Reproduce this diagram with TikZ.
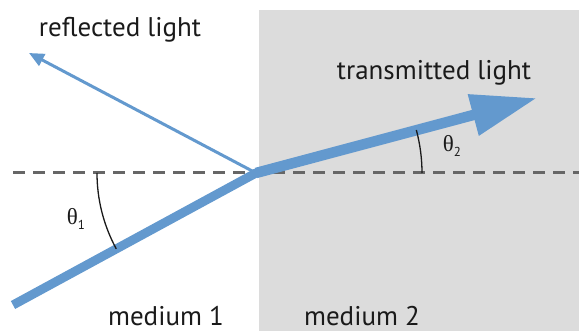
\documentclass[tikz,border=0pt]{standalone}
\usepackage{fontspec}
\setmainfont{PT Sans}
\newfontfamily\thetafont{Liberation Serif}
\usetikzlibrary{arrows.meta}
\definecolor{rayblue}{HTML}{6399CE}
\definecolor{medgray}{HTML}{DCDCDC}
\definecolor{dashgray}{HTML}{666666}
\definecolor{txt}{HTML}{1A1A1A}
\newcommand{\thsub}[1]{{\thetafont θ}\raisebox{-5pt}{\fontsize{13}{14}\selectfont #1}}
\tikzset{
  lbl/.style={text=txt, font=\fontsize{27}{30}\selectfont, inner sep=0pt},
  anglbl/.style={text=txt, font=\fontsize{23}{26}\selectfont, inner sep=0pt},
  ray/.style={draw=rayblue},
  arcline/.style={draw=txt, line width=1.3pt},
}
\begin{document}
\begin{tikzpicture}[x=1pt,y=-1pt]
\useasboundingbox (0,0) rectangle (579,331);
\fill[medgray] (259,10) rectangle (579,331);
\coordinate (O) at (256,173);
\coordinate (inc) at (13,305);
\coordinate (tr) at (537,98);
\coordinate (rf) at (29,53);
\coordinate (dl) at (13,173);
\coordinate (dr) at (579,173);
\draw[dashgray, line width=3pt, dash pattern=on 12pt off 8pt] (dl) -- (dr);
\draw[ray, line width=3pt, -{Triangle[length=15pt,width=13pt]}] (O) -- (rf);
\draw[ray, line width=9pt] (inc) -- (O);
\draw[ray, line width=10.5pt, -{Triangle[length=66pt,width=40pt]}] (O) -- (tr);
\fill[rayblue] (O) circle (4.5pt);
\draw[arcline] (O) ++(180:159) arc[start angle=180, end angle=151.5, radius=159];
\draw[arcline] (O) ++(0:166) arc[start angle=0, end angle=-15, radius=166];
\node[lbl] (rl) at (120,30) {reflected light};
\node[lbl] (tl) at (434,73) {transmitted light};
\node[lbl, anchor=base] (m1) at (166,326) {medium 1};
\node[lbl, anchor=base] (m2) at (362,326) {medium 2};
\node[anglbl] (t1) at (76,219) {\thsub{1}};
\node[anglbl] (t2) at (452,146) {\thsub{2}};
\end{tikzpicture}
\end{document}
